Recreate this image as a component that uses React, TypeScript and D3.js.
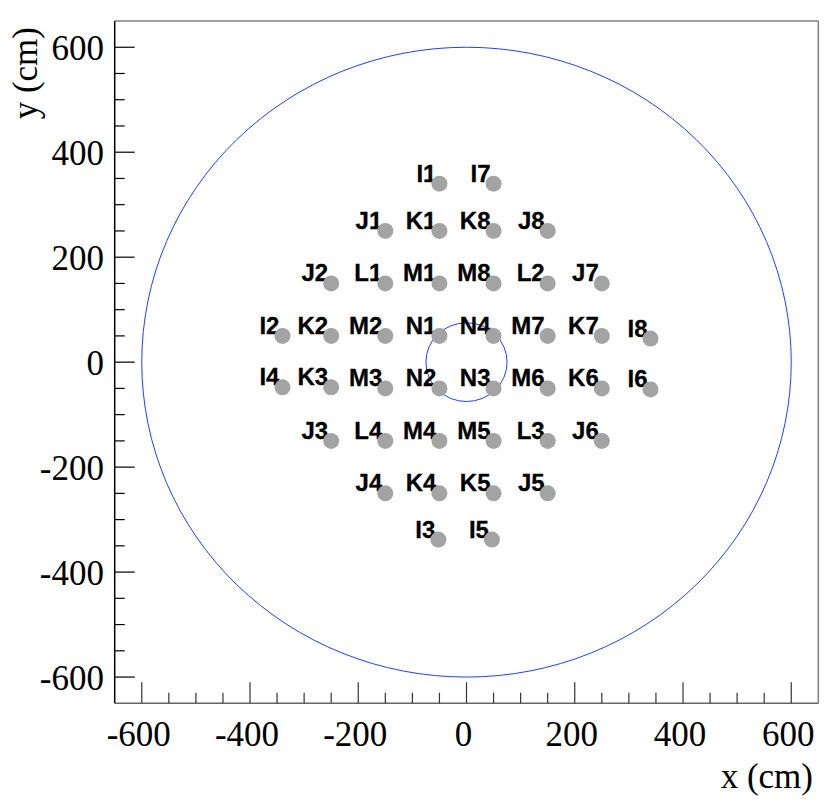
import React from "react";
import * as d3 from "d3";

const labels = ["I1","I7","J1","K1","K8","J8","J2","L1","M1","M8","L2","J7","I2","K2","M2","N1","N4","M7","K7","I8","I4","K3","M3","N2","N3","M6","K6","I6","J3","L4","M4","M5","L3","J6","J4","K4","K5","J5","I3","I5"];
const xs = [-50,50,-150,-50,50,150,-250,-150,-50,50,150,250,-340,-250,-150,-50,50,150,250,340,-340,-250,-150,-50,50,150,250,340,-250,-150,-50,50,150,250,-150,-50,50,150,-52,47];
const ys = [340,340,250,250,250,250,150,150,150,150,150,150,50,50,50,50,50,50,50,45,-48,-48,-50,-50,-50,-50,-50,-52,-150,-150,-150,-150,-150,-150,-250,-250,-250,-250,-338,-338];
const circleRadii = [600, 75];
const majorTicks = [-600,-400,-200,0,200,400,600];
const minorTicks = d3.range(-650, 651, 50);

export default function App() {
  const W = 830, H = 805;
  const L = 114.7, R = 818.3, T = 21, B = 703.3;
  const x = d3.scaleLinear().domain([-650, 650]).range([L, R]);
  const y = d3.scaleLinear().domain([-650, 650]).range([B, T]);
  const serif = "'Liberation Serif', 'Times New Roman', serif";
  const sans = "'Liberation Sans', Arial, sans-serif";
  return (
    <svg width={W} height={H} style={{ position: "absolute", left: 0, top: 0, background: "#fff" }}>
      <rect x={0} y={0} width={W} height={H} fill="#fff" />
      {circleRadii.map((r, i) => (
        <ellipse key={i} cx={x(0)} cy={y(0)} rx={x(r) - x(0)} ry={y(0) - y(r)} fill="none" stroke="#2040ff" strokeWidth={1} />
      ))}
      {labels.map((lb, i) => (
        <text key={lb} x={x(xs[i]) - 3} y={y(ys[i]) - 2} textAnchor="end" fontFamily={sans} fontWeight="bold" fontSize={24} stroke="#000" strokeWidth={0.3} fill="#000">{lb}</text>
      ))}
      {labels.map((lb, i) => (
        <circle key={"d" + lb} cx={x(xs[i])} cy={y(ys[i])} r={8} fill="#a3a3a3" />
      ))}
      <line x1={L} x2={R} y1={T} y2={T} stroke="#808080" strokeWidth={1.5} />
      <line x1={R} x2={R} y1={T} y2={B} stroke="#808080" strokeWidth={1.5} />
      <line x1={L} x2={R} y1={B} y2={B} stroke="#666" strokeWidth={1.5} />
      <line x1={L} x2={L} y1={T} y2={B} stroke="#000" strokeWidth={1.5} />
      {minorTicks.filter(v => v > -650 && v < 650).map(v => {
        const major = majorTicks.includes(v);
        return <line key={"bx" + v} x1={x(v)} x2={x(v)} y1={B} y2={B - (major ? 21 : 10.5)} stroke="#333" strokeWidth={1.2} />;
      })}
      {minorTicks.filter(v => v > -650 && v < 650).map(v => {
        const major = majorTicks.includes(v);
        return <line key={"ly" + v} x1={L} x2={L + (major ? 20 : 10)} y1={y(v)} y2={y(v)} stroke="#000" strokeWidth={1.2} />;
      })}
      {majorTicks.map(v => (
        <text key={"xl" + v} x={x(v) - 3} y={746} textAnchor="middle" fontFamily={serif} fontSize={35} fill="#000">{v}</text>
      ))}
      {majorTicks.map(v => (
        <text key={"yl" + v} x={104} y={y(v) + 12.5} textAnchor="end" fontFamily={serif} fontSize={35} fill="#000">{v}</text>
      ))}
      <text x={813} y={788} textAnchor="end" fontFamily={serif} fontSize={35} fill="#000">x (cm)</text>
      <text transform="translate(37,27) rotate(-90)" textAnchor="end" fontFamily={serif} fontSize={35} fill="#000">y (cm)</text>
    </svg>
  );
}
